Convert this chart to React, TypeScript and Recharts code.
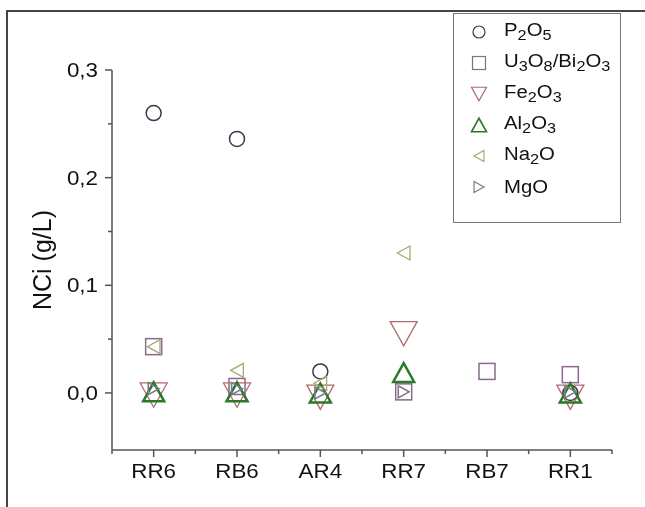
import React from "react"
import { ScatterChart, Scatter, XAxis, YAxis } from "recharts"

const categories = ["RR6", "RB6", "AR4", "RR7", "RB7", "RR1"]

// NCi (g/L) per sample, null = no point
const p2o5 = [0.26, 0.236, 0.02, null, null, 0.0]
const u3o8Bi2o3 = [0.043, 0.006, null, 0.001, 0.02, 0.017]
const fe2o3 = [-0.002, -0.002, -0.004, 0.055, null, -0.004]
const al2o3 = [0.001, 0.001, 0.0, 0.019, null, 0.0]
const na2o = [0.043, 0.021, 0.009, 0.13, null, null]
const mgo = [0.004, 0.004, 0.0, 0.001, null, 0.001]

const yTicks = [0, 0.05, 0.1, 0.15, 0.2, 0.25, 0.3]

const axisColor = "#555"
const font = "'Liberation Sans', Arial, sans-serif"

type Kind = "circle" | "square" | "down" | "up" | "left" | "right"

const series: Array<{ name: string; values: Array<number | null>; kind: Kind; color: string; width: number; size: number }> = [
    { name: "P_2O_5", values: p2o5, kind: "circle", color: "#3a3a4c", width: 1.5, size: 16 },
    { name: "U_3O_8/Bi_2O_3", values: u3o8Bi2o3, kind: "square", color: "#8a6a8c", width: 1.5, size: 16 },
    { name: "Fe_2O_3", values: fe2o3, kind: "down", color: "#b06a6a", width: 1.3, size: 27 },
    { name: "Al_2O_3", values: al2o3, kind: "up", color: "#2a7a2a", width: 2.5, size: 21 },
    { name: "Na_2O", values: na2o, kind: "left", color: "#a8a870", width: 1.3, size: 14 },
    { name: "MgO", values: mgo, kind: "right", color: "#7a7a8a", width: 1.6, size: 12 },
]

function Marker({ kind, cx, cy, size, color, width }: { kind: Kind; cx: number; cy: number; size: number; color: string; width: number }) {
    const h = size / 2
    const common = { fill: "none", stroke: color, strokeWidth: width }
    if (kind === "circle") return <circle cx={cx} cy={cy} r={h - 0.5} {...common} />
    if (kind === "square") return <rect x={cx - h} y={cy - h} width={size} height={size} {...common} />
    const t = h * 0.9
    let pts = ""
    if (kind === "down") pts = `${cx - h},${cy - t} ${cx + h},${cy - t} ${cx},${cy + t}`
    if (kind === "up") pts = `${cx - h},${cy + t} ${cx + h},${cy + t} ${cx},${cy - t}`
    if (kind === "left") pts = `${cx + t},${cy - h} ${cx + t},${cy + h} ${cx - t},${cy}`
    if (kind === "right") pts = `${cx - t},${cy - h} ${cx - t},${cy + h} ${cx + t},${cy}`
    return <polygon points={pts} {...common} strokeLinejoin="miter" />
}

function Formula({ text }: { text: string }) {
    const parts = text.split(/_(\d)/)
    return (
        <span>
            {parts.map((p, i) =>
                i % 2 === 1 ? (
                    <sub key={i} style={{ fontSize: "0.8em", verticalAlign: "-0.3em" }}>{p}</sub>
                ) : (
                    <span key={i}>{p}</span>
                )
            )}
        </span>
    )
}

const XTick = (props: any) => {
    const { x, y, payload } = props
    const v = payload.value
    const major = Number.isInteger(v)
    return (
        <g>
            <line x1={x} x2={x} y1={y} y2={y + (major ? 7 : 4)} stroke={axisColor} strokeWidth={1.5} />
            {major && (
                <text transform={`translate(${x},${y + 28}) scale(1.12,1)`} textAnchor="middle" fontSize={20} fill="#111" fontFamily={font}>
                    {categories[v - 1]}
                </text>
            )}
        </g>
    )
}

const YTick = (props: any) => {
    const { x, y, payload } = props
    const v = payload.value
    const major = Math.abs(v * 10 - Math.round(v * 10)) < 1e-6
    return (
        <g>
            <line x1={x - (major ? 7 : 4)} x2={x} y1={y} y2={y} stroke={axisColor} strokeWidth={1.5} />
            {major && (
                <text transform={`translate(${x - 14},${y + 7}) scale(1.12,1)`} textAnchor="end" fontSize={20} fill="#111" fontFamily={font}>
                    {v.toFixed(1).replace(".", ",")}
                </text>
            )}
        </g>
    )
}

export default function App() {
    const xTicks = categories.flatMap((_, i) => [i + 0.5, i + 1]).concat(categories.length + 0.5)

    return (
        <div style={{ position: "relative", width: 637, height: 491, fontFamily: font }}>
            <div
                style={{
                    position: "fixed",
                    left: 6,
                    top: 10,
                    width: 639,
                    height: 497,
                    borderTop: "2px solid #444",
                    borderLeft: "2px solid #444",
                    pointerEvents: "none",
                }}
            />
            <ScatterChart width={637} height={491} margin={{ top: 62, right: 33, left: 0, bottom: 0 }}>
                <XAxis
                    type="number"
                    dataKey="x"
                    domain={[0.5, 6.5]}
                    ticks={xTicks}
                    tick={XTick}
                    tickLine={false}
                    tickSize={0}
                    tickMargin={0}
                    height={49}
                    axisLine={{ stroke: axisColor, strokeWidth: 1.5 }}
                    interval={0}
                />
                <YAxis
                    type="number"
                    dataKey="y"
                    domain={[-0.053, 0.3]}
                    ticks={yTicks}
                    tick={YTick}
                    tickLine={false}
                    tickSize={0}
                    tickMargin={0}
                    width={104}
                    axisLine={{ stroke: axisColor, strokeWidth: 1.5 }}
                    interval={0}
                    label={{
                        value: "NCi (g/L)",
                        angle: -90,
                        position: "insideLeft",
                        offset: 34,
                        style: { fontSize: 25, fill: "#111", fontFamily: font, textAnchor: "middle" },
                    }}
                />
                {series.map((s) => (
                    <Scatter
                        key={s.name}
                        name={s.name}
                        data={s.values
                            .map((v, i) => (v === null ? null : { x: i + 1, y: v }))
                            .filter((d) => d !== null)}
                        isAnimationActive={false}
                        shape={(p: any) => <Marker kind={s.kind} cx={p.cx} cy={p.cy} size={s.size} color={s.color} width={s.width} />}
                    />
                ))}
            </ScatterChart>
            <div
                style={{
                    position: "absolute",
                    left: 445,
                    top: 5,
                    width: 166,
                    height: 208,
                    border: "1px solid #777",
                    background: "#fff",
                }}
            >
                {series.map((s, i) => (
                    <div
                        key={s.name}
                        style={{ position: "absolute", left: 0, top: 4 + i * 31, height: 28, display: "flex", alignItems: "center" }}
                    >
                        <svg width={50} height={28} style={{ display: "block" }}>
                            <Marker
                                kind={s.kind}
                                cx={25}
                                cy={14}
                                size={s.kind === "down" || s.kind === "up" ? 15 : s.kind === "left" || s.kind === "right" ? 11 : 13}
                                color={s.color}
                                width={s.kind === "up" ? 1.6 : 1.2}
                            />
                        </svg>
                        <span style={{ fontSize: 18, color: "#111", whiteSpace: "nowrap", display: "inline-block", transform: "scaleX(1.13)", transformOrigin: "left center" }}>
                            <Formula text={s.name} />
                        </span>
                    </div>
                ))}
            </div>
        </div>
    )
}
